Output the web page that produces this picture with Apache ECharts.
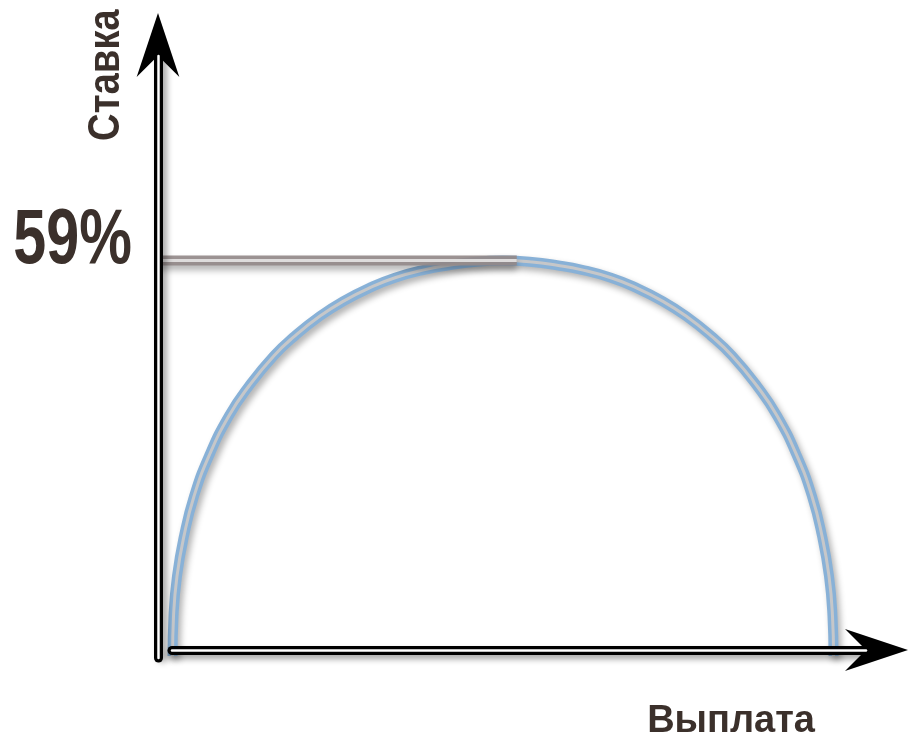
<!DOCTYPE html>
<html>
<head>
<meta charset="utf-8">
<script src="https://cdn.jsdelivr.net/npm/echarts@6/dist/echarts.min.js"></script>
<style>
html,body{margin:0;padding:0;background:#fff;}
#c{width:909px;height:738px;}
</style>
</head>
<body>
<div id="c"></div>
<script>
// Payout (x) and rate (y, %)
const payout = [2.05, 2.19, 2.68, 3.67, 5.08, 7.19, 10.01, 12.83, 16.36, 19.32, 22.85, 26.23, 29.90, 33.43, 37.52, 41.04, 44.57, 48.66,
                52.75, 56.28, 59.80, 63.89, 67.42, 71.09, 74.47, 78.00, 80.96, 84.49, 87.31, 90.13, 92.24, 93.65, 94.64, 95.13, 95.28];
const rate   = [-0.9, 5.2, 11.2, 17.3, 23.3, 29.4, 35.5, 40.0, 44.6, 47.6, 50.6, 52.9, 54.9, 56.4, 57.6, 58.3, 58.8, 59.0,
                58.8, 58.3, 57.6, 56.4, 54.9, 52.9, 50.6, 47.6, 44.6, 40.0, 35.5, 29.4, 23.3, 17.3, 11.2, 5.2, -0.9];
const peakRate = 59;
const guidePayout = [0, 50.6];
const yTickLabel = '59%';
const xName = 'Выплата';
const yName = 'Ставка';

const curve = payout.map((p, i) => [p, rate[i]]);
const guide = guidePayout.map(p => [p, peakRate]);

const arrow = 'path://M0,0 L1,3 L0,2 L-1,3 Z';
const txt = '#3b302b';
const sans = '"Liberation Sans", Arial, sans-serif';

const chart = echarts.init(document.getElementById('c'), null, {renderer: 'canvas'});
const noBounds = {outerBoundsMode: 'none', containLabel: false};
chart.setOption({
  animation: false,
  backgroundColor: '#fff',
  grid: [
    Object.assign({left: 158, right: 42, top: 56, bottom: 88}, noBounds),     // data
    Object.assign({left: 172, right: 43, bottom: 88, height: 1}, noBounds),   // x axis
    Object.assign({left: 158, width: 1, top: 56, bottom: 80}, noBounds)       // y axis
  ],
  xAxis: [
    {gridIndex: 0, type: 'value', min: 0, max: 100, show: false},
    {gridIndex: 1, type: 'value', min: 0, max: 1, position: 'bottom', z: 10,
     axisLine: {show: true, symbol: ['none', arrow], symbolSize: [45, 63], symbolOffset: [0, 10.5],
       lineStyle: {color: '#000', width: 9, shadowColor: 'rgba(0,0,0,0.35)', shadowBlur: 6, shadowOffsetY: 4}},
     axisTick: {show: false}, axisLabel: {show: false}, splitLine: {show: false},
     name: xName, nameLocation: 'end', nameGap: -51,
     nameTextStyle: {color: txt, fontSize: 38, fontWeight: 'bold', fontFamily: sans,
       align: 'right', verticalAlign: 'top', padding: [53, 0, 0, 0]}},
    {gridIndex: 1, type: 'value', min: 0, max: 1, position: 'bottom', z: 11,
     axisLine: {show: true, lineStyle: {color: '#fff', width: 2.5}},
     axisTick: {show: false}, axisLabel: {show: false}, splitLine: {show: false}},
    {gridIndex: 2, type: 'value', min: 0, max: 1, show: false}
  ],
  yAxis: [
    {gridIndex: 0, type: 'value', min: 0, max: 90, show: false},
    {gridIndex: 1, type: 'value', min: 0, max: 1, show: false},
    {gridIndex: 2, type: 'value', min: 0, max: 1, position: 'left', z: 10,
     axisLine: {show: true, symbol: ['none', arrow], symbolSize: [47, 64], symbolOffset: [0, 11],
       lineStyle: {color: '#000', width: 9, shadowColor: 'rgba(0,0,0,0.35)', shadowBlur: 6, shadowOffsetX: 4}},
     axisTick: {show: false}, axisLabel: {show: false}, splitLine: {show: false}},
    {gridIndex: 2, type: 'value', min: 0, max: 1, position: 'left', z: 11,
     axisLine: {show: true, lineStyle: {color: '#fff', width: 2.5}},
     axisTick: {show: false}, axisLabel: {show: false}, splitLine: {show: false}}
  ],
  series: [
    {type: 'line', xAxisIndex: 0, yAxisIndex: 0, data: curve, smooth: 0.5, symbol: 'none', clip: false, z: 2,
     lineStyle: {color: '#88b1d7', width: 10, shadowColor: 'rgba(0,0,0,0.3)', shadowBlur: 6, shadowOffsetX: 3, shadowOffsetY: 4}},
    {type: 'line', xAxisIndex: 0, yAxisIndex: 0, data: curve, smooth: 0.5, symbol: 'none', clip: false, z: 3,
     lineStyle: {color: '#c6c7c9', width: 3}},
    {type: 'line', xAxisIndex: 0, yAxisIndex: 0, data: guide, symbol: 'none', clip: false, z: 4,
     lineStyle: {color: 'rgba(148,138,138,0.92)', width: 10, shadowColor: 'rgba(0,0,0,0.3)', shadowBlur: 6, shadowOffsetY: 5}},
    {type: 'line', xAxisIndex: 0, yAxisIndex: 0, data: guide, symbol: 'none', clip: false, z: 5,
     lineStyle: {color: 'rgba(226,224,224,0.95)', width: 3}}
  ]
});

// Condensed bold labels (tick label for the peak rate, y-axis name), positioned from the scales
const yPeak = chart.convertToPixel({yAxisIndex: 0}, peakRate);
const xAxisPx = chart.convertToPixel({xAxisIndex: 0}, 0);
chart.setOption({
  graphic: [
    {type: 'text', x: xAxisPx - 26, y: yPeak - 19, scaleX: 0.77, z: 20,
     style: {text: yTickLabel, fill: txt, font: 'bold 77px ' + sans, textAlign: 'right', textVerticalAlign: 'middle'}},
    {type: 'text', x: 106.5, y: 141, rotation: Math.PI / 2, scaleX: 0.87, z: 20,
     style: {text: yName, fill: txt, font: 'bold 44px ' + sans, textAlign: 'left', textVerticalAlign: 'middle'}}
  ]
});
</script>
</body>
</html>
